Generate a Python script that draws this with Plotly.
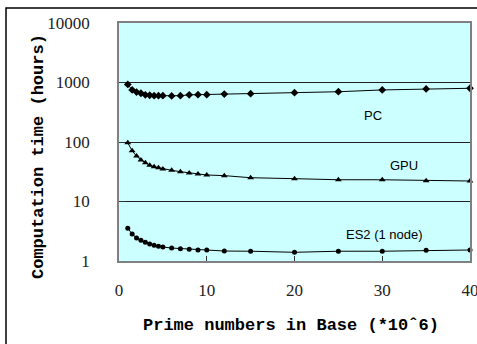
import math
import plotly.graph_objects as go

primes_m = [1, 1.5, 2, 2.5, 3, 3.5, 4, 4.5, 5, 6, 7, 8, 9, 10, 12, 15, 20, 25, 30, 35, 40]
pc_hours = [930, 750, 690, 660, 620, 610, 600, 600, 600, 595, 600, 620, 625, 625, 640, 650, 675, 700, 750, 780, 800]
gpu_hours = [97, 71, 58, 50, 45, 40.5, 38.4, 37, 35.2, 33.4, 31.7, 30.1, 29, 27.9, 27.2, 25.1, 24.2, 23.2, 23.2, 22.4, 22.1]
es2_hours = [3.55, 2.84, 2.44, 2.23, 2.06, 1.93, 1.84, 1.77, 1.72, 1.65, 1.61, 1.57, 1.53, 1.53, 1.47, 1.46, 1.40, 1.46, 1.46, 1.51, 1.53]

x_ticks = [0, 10, 20, 30, 40]
y_ticks = [1, 10, 100, 1000, 10000]
series_labels = ["PC", "GPU", "ES2 (1 node)"]
label_x = [29.0, 32.5, 30.3]
label_y = [284, 41, 2.81]
x_title = "Prime numbers in Base (*10ˆ6)"
y_title = "Computation time (hours)"

SERIF = "Liberation Serif"
MONO = "Liberation Mono"

W, H = 477, 344
ML, MT = 6, 8
PW, PH = W - ML, H - MT
xdom = [(119 - ML) / PW, (470 - ML) / PW]
ydom = [(H - 261) / PH, (H - 23) / PH]

fig = go.Figure()
for ys, sym, sz in [(pc_hours, "diamond", 6), (gpu_hours, "triangle-up", 6), (es2_hours, "circle", 5)]:
    fig.add_trace(go.Scatter(
        x=primes_m, y=ys, mode="lines+markers",
        line=dict(color="black", width=1),
        marker=dict(symbol=sym, size=sz, color="black"),
        showlegend=False, cliponaxis=False))

for name, lx, ly in zip(series_labels, label_x, label_y):
    fig.add_annotation(x=lx, y=math.log10(ly), xref="x", yref="y", text=name, showarrow=False,
                       xanchor="center", yanchor="middle",
                       font=dict(family="Liberation Sans", size=13, color="black"))

title_font = dict(family=MONO, size=17, color="black", weight="bold")
fig.add_annotation(x=(291 - ML) / PW, y=(H - 325) / PH, xref="paper", yref="paper",
                   xanchor="center", yanchor="middle",
                   text=x_title, showarrow=False, font=title_font)
fig.add_annotation(x=(38 - ML) / PW, y=(H - 157) / PH, xref="paper", yref="paper",
                   xanchor="center", yanchor="middle",
                   text=y_title, showarrow=False, textangle=-90, font=title_font)

fig.add_shape(type="rect", xref="paper", yref="paper",
              x0=0, x1=1.2, y0=-0.2, y1=1,
              line=dict(color="black", width=1.5), fillcolor="rgba(0,0,0,0)", layer="above")

fig.update_layout(
    width=W, height=H,
    margin=dict(l=ML, r=0, t=MT, b=0, pad=0, autoexpand=False),
    paper_bgcolor="white", plot_bgcolor="#CCFFFF",
    xaxis=dict(domain=xdom, range=[0, 40], tickvals=x_ticks, ticks="inside", ticklen=5, tickcolor="#333",
               showgrid=False, zeroline=False, showline=True, linecolor="#808080", linewidth=1.5,
               mirror=True, ticklabelstandoff=13, automargin=False, ticklabeloverflow="allow",
               tickfont=dict(family=SERIF, size=17, color="#222")),
    yaxis=dict(domain=ydom, type="log", range=[0, 4], tickvals=y_ticks, ticktext=[str(v) for v in y_ticks],
               ticks="inside", ticklen=6, tickcolor="#333",
               showgrid=True, gridcolor="#222", gridwidth=1, zeroline=False,
               showline=True, linecolor="#808080", linewidth=1.5, mirror=True,
               ticklabelstandoff=24, automargin=False,
               tickfont=dict(family=SERIF, size=17, color="#222")),
)

fig.write_html("out.html", config={"displayModeBar": False},
               post_script="document.body.style.margin='0';document.body.style.overflow='hidden';")
